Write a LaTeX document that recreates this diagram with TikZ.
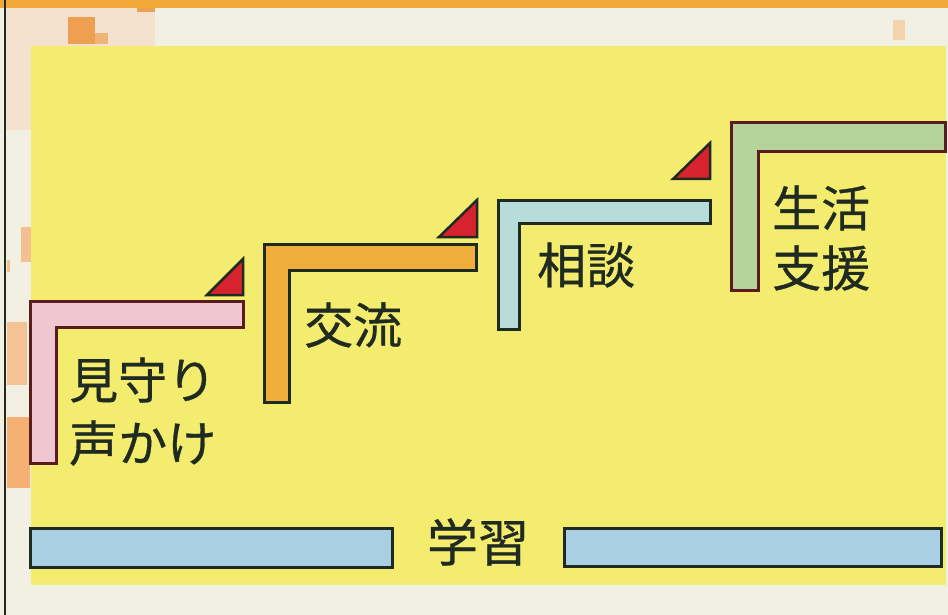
\documentclass[tikz,border=0pt]{standalone}
\usepackage{fontspec}
\newfontfamily\cjk[FakeBold=0.6]{Noto Sans CJK JP}
\definecolor{paper}{HTML}{F2F0E2}
\definecolor{stripe}{HTML}{F0A936}
\definecolor{panel}{HTML}{F3EC6E}
\definecolor{pinkL}{HTML}{EEC7D0}
\definecolor{orangeL}{HTML}{EFAE3A}
\definecolor{blueL}{HTML}{B8DCDA}
\definecolor{greenL}{HTML}{B4D49C}
\definecolor{barblue}{HTML}{A8CFE3}
\definecolor{tri}{HTML}{D6232E}
\definecolor{maroon}{HTML}{5A1C1C}
\definecolor{ink}{HTML}{1F2A20}
\definecolor{peach}{HTML}{F5E2CE}
\definecolor{blot}{HTML}{EEA050}
\definecolor{blotlight}{HTML}{F4B47A}
\tikzset{
  lshape/.style={line width=3pt, line join=miter},
  redtri/.style={fill=tri, draw=ink, line width=2.5pt, line join=miter},
  label/.style={text=ink, inner sep=0pt, font=\cjk\fontsize{49}{60}\selectfont},
  bar/.style={fill=barblue, draw=ink, line width=3pt}
}
\begin{document}
\begin{tikzpicture}[x=1pt,y=-1pt]
\useasboundingbox (0,0) rectangle (948,615);
% paper and decorations
\fill[paper] (0,0) rectangle (948,615);
\fill[stripe] (0,0) rectangle (948,8);
\fill[peach] (6,8) rectangle (155,46);
\fill[peach] (6,46) rectangle (31,130);
\fill[blot] (68,17) rectangle (95,44);
\fill[blot!70!peach] (95,33) rectangle (108,44);
\fill[blot] (137,8) rectangle (155,12);
\fill[blotlight!50!paper] (893,20) rectangle (905,40);
\fill[blotlight!80!paper] (21,227) rectangle (31,262);
\fill[blotlight!80!paper] (7,260) rectangle (10,272);
\fill[blotlight!75!paper] (7,322) rectangle (27,385);
\fill[blotlight!95!orange] (7,417) rectangle (30,488);
\draw[ink, line width=1.5pt] (5,0) -- (5,615);
% yellow panel
\fill[panel] (31,46) rectangle (946,585);
% L shapes
\draw[lshape, fill=pinkL, draw=maroon] (30,301) -- (243,301) -- (243,327) -- (56,327) -- (56,463) -- (30,463) -- cycle;
\draw[lshape, fill=orangeL, draw=ink] (264,244) -- (476,244) -- (476,270) -- (289,270) -- (289,402) -- (264,402) -- cycle;
\draw[lshape, fill=blueL, draw=ink] (498,200) -- (710,200) -- (710,223) -- (519,223) -- (519,329) -- (498,329) -- cycle;
\draw[lshape, fill=greenL, draw=maroon] (731,123) -- (945,123) -- (945,152) -- (758,152) -- (758,290) -- (731,290) -- cycle;
% triangles
\draw[redtri] (207,295) -- (243,295) -- (243,259) -- cycle;
\draw[redtri] (439,237) -- (477,237) -- (477,200) -- cycle;
\draw[redtri] (673,179) -- (710,179) -- (710,143) -- cycle;
% labels
\node[label, anchor=west] (t1a) at (69,380) {見守り};
\node[label, anchor=west] (t1b) at (69,443) {声かけ};
\node[label, anchor=west] (t2) at (304,325) {交流};
\node[label, anchor=west] (t3) at (537,265) {相談};
\node[label, anchor=west] (t4a) at (772,208) {生活};
\node[label, anchor=west] (t4b) at (772,268) {支援};
% bottom
\draw[bar] (30,528) rectangle (392,567);
\draw[bar] (564,528) rectangle (941,566);
\node[label, font=\cjk\fontsize{51}{60}\selectfont] (t5) at (478,542) {学習};
\end{tikzpicture}
\end{document}
